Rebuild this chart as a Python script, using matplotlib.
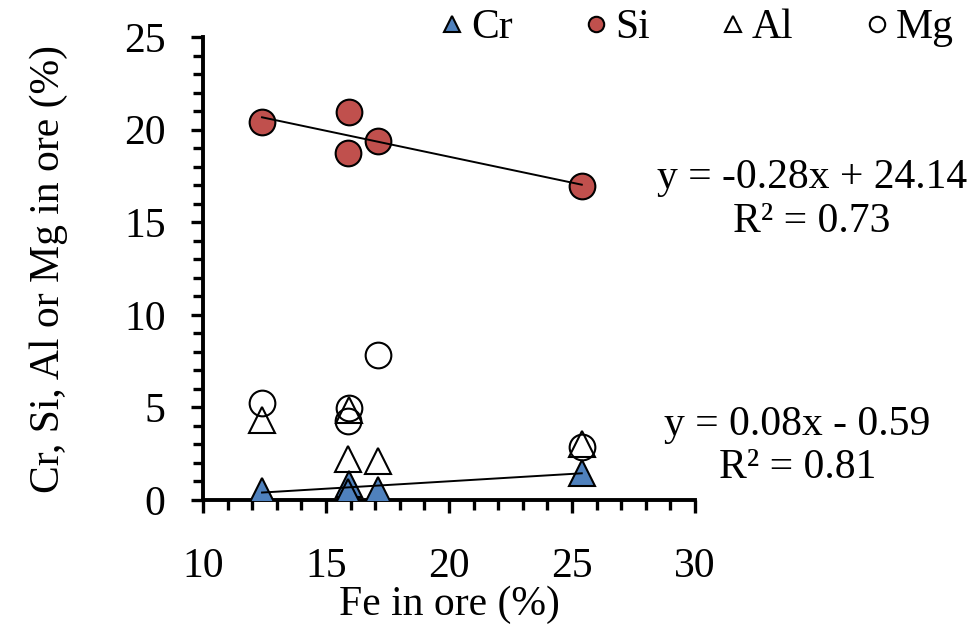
import numpy as np
import matplotlib
matplotlib.use("Agg")
import matplotlib.pyplot as plt
from matplotlib.ticker import MultipleLocator

plt.rcParams["font.family"] = ["Liberation Serif", "DejaVu Serif"]

# Fe content of the ores (%)
fe = [12.4, 15.95, 15.9, 17.1, 25.4]
cr = [0.5, 0.85, 0.45, 0.55, 1.45]
si = [20.4, 20.95, 18.75, 19.4, 16.95]
al = [4.3, 4.85, 2.2, 2.1, 3.0]
mg = [5.25, 4.95, 4.25, 7.85, 2.85]

# linear trendlines (slope, intercept) as printed on the chart
si_fit = [-0.28, 24.14]
cr_fit = [0.08, -0.59]
si_r2 = 0.73
cr_r2 = 0.81

blue = "#4F81BD"
red = "#C0504D"
fs = 30

fig = plt.figure(figsize=(9.76, 6.35), dpi=100)
ax = fig.add_axes([0.208, 0.2126, 0.504, 0.729])

ms = 19
ax.plot(fe, cr, "^", ms=ms, mfc=blue, mec="black", mew=1.5, label="Cr", zorder=3)
ax.plot(fe, si, "o", ms=ms - 0.5, mfc=red, mec="black", mew=1.5, label="Si", zorder=3)
ax.plot(fe, al, "^", ms=ms, mfc="none", mec="black", mew=1.5, label="Al", zorder=3)
ax.plot(fe, mg, "o", ms=ms - 0.5, mfc="none", mec="black", mew=1.5, label="Mg", zorder=3)

# trendlines
xx = np.array([min(fe), max(fe)])
ax.plot(xx, si_fit[0] * xx + si_fit[1], color="black", lw=1.4, zorder=4)
ax.plot(xx, cr_fit[0] * xx + cr_fit[1], color="black", lw=1.4, zorder=4)

ax.set_xlim(10, 30)
ax.set_ylim(0, 25)
ax.xaxis.set_major_locator(MultipleLocator(5))
ax.xaxis.set_minor_locator(MultipleLocator(1))
ax.yaxis.set_major_locator(MultipleLocator(5))
ax.yaxis.set_minor_locator(MultipleLocator(1))

for s in ["top", "right"]:
    ax.spines[s].set_visible(False)
for s in ["left", "bottom"]:
    ax.spines[s].set_linewidth(2.8)

ax.tick_params(which="both", direction="out", width=2.4, labelsize=fs)
ax.tick_params(which="major", length=9)
ax.tick_params(which="minor", length=7)
ax.tick_params(axis="x", which="major", pad=25)
ax.tick_params(axis="y", which="major", pad=18)

ax.set_xlabel("Fe in ore (%)", fontsize=fs, labelpad=0)
ax.set_ylabel("Cr, Si, Al or Mg in ore (%)", fontsize=fs, labelpad=40)

fig.text(0.832, 0.720, f"y = {si_fit[0]:.2f}x + {si_fit[1]:.2f}", fontsize=fs,
         ha="center", va="center")
fig.text(0.832, 0.650, f"R² = {si_r2:.2f}", fontsize=fs, ha="center", va="center")
fig.text(0.817, 0.331, f"y = {cr_fit[0]:.2f}x - {abs(cr_fit[1]):.2f}", fontsize=fs,
         ha="center", va="center")
fig.text(0.817, 0.263, f"R² = {cr_r2:.2f}", fontsize=fs, ha="center", va="center")

fig.legend(loc="upper right", bbox_to_anchor=(1.015, 1.045), ncol=4, frameon=False,
           fontsize=fs, markerscale=0.6, handlelength=0.6, handletextpad=0.15,
           columnspacing=1.7)

fig.savefig("out.png", dpi=100)
